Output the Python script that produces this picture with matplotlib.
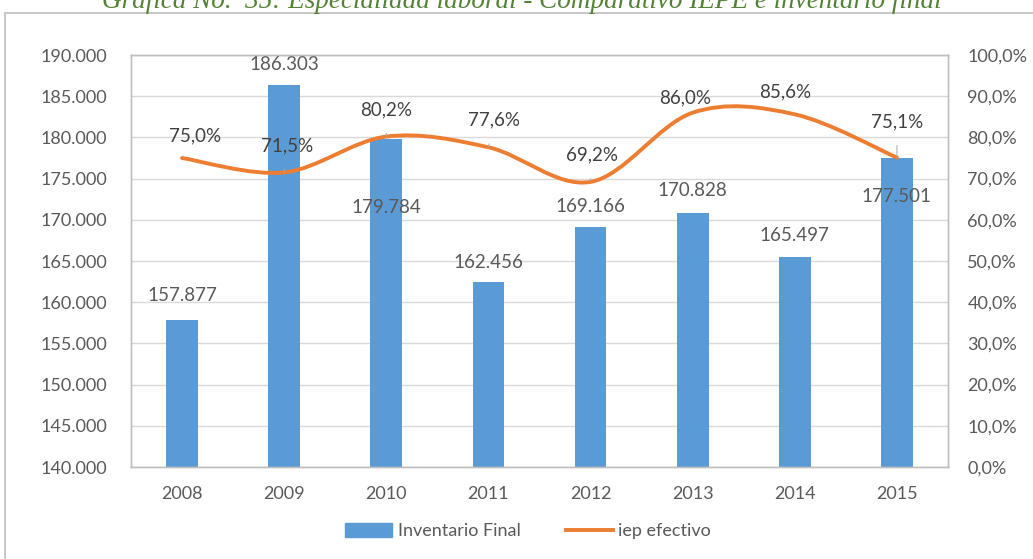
import matplotlib.pyplot as plt
from matplotlib.path import Path
from matplotlib.patches import PathPatch, Rectangle, Patch
from matplotlib.lines import Line2D
from matplotlib.ticker import FuncFormatter

years = ['2008', '2009', '2010', '2011', '2012', '2013', '2014', '2015']
inventario = [157877, 186303, 179784, 162456, 169166, 170828, 165497, 177501]
iep = [75.0, 71.5, 80.2, 77.6, 69.2, 86.0, 85.6, 75.1]

# label offsets in pixels (dx, dy)
bar_lbl_off = [(0, 24), (0, 21), (0, -68), (0, 19), (0, 20), (0, 22), (0, 21), (0, -39)]
iep_lbl_off = [(13, 22), (3, 27), (0, 27), (6, 27), (1, 27), (-8, 15), (-10, 22), (0, 36)]
iep_leader = [False, True, True, True, True, False, False, True]

blue = '#5B9BD5'
orange = '#ED7D31'
gray_txt = '#595959'
dark_txt = '#404040'

plt.rcParams['font.family'] = ['Lato', 'DejaVu Sans']

fig = plt.figure(figsize=(10.33, 5.59), dpi=100)
ax = fig.add_axes([131 / 1033, 92 / 559, 817 / 1033, 412 / 559])
ax2 = ax.twinx()

x = list(range(len(years)))
ax.bar(x, inventario, width=0.31, color=blue, zorder=2)
ax.set_ylim(140000, 190000)
ax.set_xlim(-0.5, len(years) - 0.5)
ax.set_yticks(range(140000, 190001, 5000))
ax.yaxis.set_major_formatter(FuncFormatter(lambda v, p: f'{int(v):,}'.replace(',', '.')))
ax.set_xticks(x)
ax.set_xticklabels(years)
ax.grid(axis='y', color='#D9D9D9', lw=1, zorder=0)
ax.set_axisbelow(True)

ax2.set_ylim(0, 100)
ax2.set_yticks(range(0, 101, 10))
ax2.yaxis.set_major_formatter(FuncFormatter(lambda v, p: f'{v:.1f}%'.replace('.', ',')))

for a in (ax, ax2):
    a.tick_params(length=0, labelsize=13, labelcolor=gray_txt)
    for s in a.spines.values():
        s.set_color('#BFBFBF')
        s.set_linewidth(1)
ax.tick_params(axis='y', pad=17)
ax.tick_params(axis='x', pad=14)
ax2.tick_params(axis='y', pad=14)

# smoothed line (Excel style cubic bezier through the points)
n = len(iep)
verts = [(x[0], iep[0])]
codes = [Path.MOVETO]
for i in range(n - 1):
    p0 = (x[max(i - 1, 0)], iep[max(i - 1, 0)])
    p1 = (x[i], iep[i])
    p2 = (x[i + 1], iep[i + 1])
    p3 = (x[min(i + 2, n - 1)], iep[min(i + 2, n - 1)])
    c1 = (p1[0] + (p2[0] - p0[0]) / 6, p1[1] + (p2[1] - p0[1]) / 6)
    c2 = (p2[0] - (p3[0] - p1[0]) / 6, p2[1] - (p3[1] - p1[1]) / 6)
    verts += [c1, c2, p2]
    codes += [Path.CURVE4] * 3
ax2.add_patch(PathPatch(Path(verts, codes), fill=False, edgecolor=orange,
                        lw=2.8, capstyle='round', joinstyle='round', zorder=3))

for i in x:
    ax.annotate(f'{inventario[i]:,}'.replace(',', '.'), (i, inventario[i]),
                xytext=bar_lbl_off[i], textcoords='offset pixels',
                ha='center', va='center', fontsize=13.5, color=gray_txt, zorder=4)
    arrow = dict(arrowstyle='-', color='#A6A6A6', lw=0.7, shrinkA=9, shrinkB=0) if iep_leader[i] else None
    ax2.annotate(f'{iep[i]:.1f}%'.replace('.', ','), (i, iep[i]),
                 xytext=iep_lbl_off[i], textcoords='offset pixels',
                 ha='center', va='center', fontsize=13.5, color=dark_txt,
                 arrowprops=arrow, zorder=4)

handles = [Patch(color=blue), Line2D([0], [0], color=orange, lw=2.8)]
fig.legend(handles, ['Inventario Final', 'iep efectivo'], loc='center',
           bbox_to_anchor=(528 / 1033, 1 - 531 / 559), ncol=2, frameon=False,
           fontsize=13, labelcolor=gray_txt, handlelength=2.6, handleheight=0.8,
           columnspacing=2.5, handletextpad=0.3)

# outer chart frame, cut off by the image edge
fig.patches.append(Rectangle((5 / 1033, -0.1), 1.2, 1 - 13 / 559 + 0.1,
                             transform=fig.transFigure, fill=False,
                             edgecolor='#BFBFBF', lw=1.2))

fig.text(522 / 1033, 1 - 8 / 559,
         'Gráfica No.  35: Especialidad laboral - Comparativo IEPE e inventario final',
         ha='center', va='baseline', fontsize=19.5, style='italic',
         family='Liberation Serif', color='#538135')

fig.savefig('out.png', dpi=100)
